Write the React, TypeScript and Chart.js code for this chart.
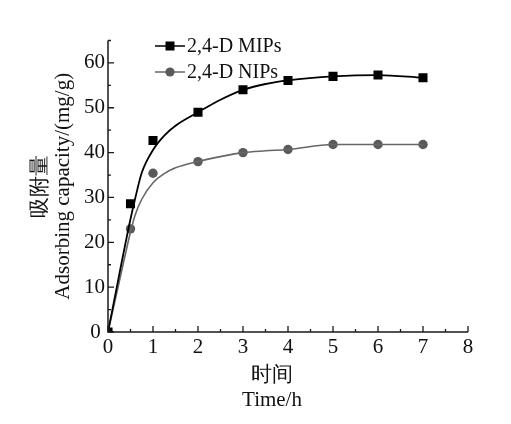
import React, { useEffect, useRef } from "react";
import { Chart, registerables } from "chart.js";

Chart.register(...registerables);

// Measured data (time in h, adsorbing capacity in mg/g)
const times = [0, 0.5, 1, 2, 3, 4, 5, 6, 7];
const mipValues = [0, 28.6, 42.7, 49.0, 54.0, 56.1, 57.0, 57.3, 56.7];
const nipValues = [0, 23.0, 35.4, 38.0, 40.0, 40.7, 41.8, 41.8, 41.8];

// Fitted curves
const fitTimes = [0, 0.25, 0.5, 0.6, 0.75, 1, 1.25, 1.5, 2, 2.5, 3, 3.5, 4, 5, 6, 7];
const mipFit = [0, 12.8, 25.2, 29.6, 35.5, 40.6, 43.8, 46.0, 49.0, 51.8, 54.0, 55.3, 56.1, 57.0, 57.3, 56.7];
const nipFit = [0, 11.2, 22.3, 26.0, 29.6, 33.3, 35.3, 36.6, 38.0, 39.1, 40.0, 40.4, 40.7, 41.8, 41.8, 41.8];

const xTicks = [0, 1, 2, 3, 4, 5, 6, 7, 8];
const yTicks = [0, 10, 20, 30, 40, 50, 60];
const seriesNames = ["2,4-D MIPs", "2,4-D NIPs"];
const yTitle = ["吸附量", "Adsorbing capacity/(mg/g)"];
const xTitle = ["时间", "Time/h"];

const FONT = "'Liberation Serif', 'Times New Roman', serif";
const MIP_COLOR = "#000000";
const NIP_LINE = "#666666";
const NIP_POINT = "#5a5a5a";
const AXIS_COLOR = "#1a1a1a";

const decorPlugin = {
  id: "decor",
  afterDraw(chart: any) {
    const ctx = chart.ctx as CanvasRenderingContext2D;
    const xs = chart.scales.x;
    const ys = chart.scales.y;
    const area = chart.chartArea;
    ctx.save();
    // axis lines
    ctx.strokeStyle = AXIS_COLOR;
    ctx.lineWidth = 1.5;
    ctx.beginPath();
    ctx.moveTo(area.left, area.top);
    ctx.lineTo(area.left, area.bottom);
    ctx.lineTo(area.right, area.bottom);
    ctx.stroke();
    // inward ticks
    ctx.lineWidth = 1.3;
    ctx.beginPath();
    for (let i = 0; i < xTicks.length; i++) {
      const px = xs.getPixelForValue(xTicks[i]);
      ctx.moveTo(px, area.bottom);
      ctx.lineTo(px, area.bottom - 6);
      if (i < xTicks.length - 1) {
        const mx = xs.getPixelForValue((xTicks[i] + xTicks[i + 1]) / 2);
        ctx.moveTo(mx, area.bottom);
        ctx.lineTo(mx, area.bottom - 3);
      }
    }
    for (let i = 0; i < yTicks.length; i++) {
      const py = ys.getPixelForValue(yTicks[i]);
      ctx.moveTo(area.left, py);
      ctx.lineTo(area.left + 6, py);
      const mid = yTicks[i] + 5;
      const my = ys.getPixelForValue(mid);
      if (my >= area.top) {
        ctx.moveTo(area.left, my);
        ctx.lineTo(area.left + 3, my);
      }
    }
    ctx.stroke();

    // legend
    const lx = area.left + 47;
    const rows = [area.top + 5.5, area.top + 31.5];
    ctx.font = `20px ${FONT}`;
    ctx.textBaseline = "middle";
    ctx.textAlign = "left";
    // MIP row
    ctx.strokeStyle = MIP_COLOR;
    ctx.lineWidth = 1.5;
    ctx.beginPath();
    ctx.moveTo(lx, rows[0]);
    ctx.lineTo(lx + 30, rows[0]);
    ctx.stroke();
    ctx.fillStyle = MIP_COLOR;
    ctx.fillRect(lx + 15 - 4.5, rows[0] - 4.5, 9, 9);
    ctx.fillStyle = "#111";
    ctx.fillText(seriesNames[0], lx + 32, rows[0] + 1);
    // NIP row
    ctx.strokeStyle = NIP_LINE;
    ctx.beginPath();
    ctx.moveTo(lx, rows[1]);
    ctx.lineTo(lx + 30, rows[1]);
    ctx.stroke();
    ctx.fillStyle = NIP_POINT;
    ctx.beginPath();
    ctx.arc(lx + 15, rows[1], 4.6, 0, Math.PI * 2);
    ctx.fill();
    ctx.fillStyle = "#111";
    ctx.fillText(seriesNames[1], lx + 32, rows[1] + 1);

    // axis titles
    ctx.font = `21px ${FONT}`;
    ctx.textAlign = "center";
    const cy = (area.top + area.bottom) / 2;
    ctx.save();
    ctx.translate(40, cy);
    ctx.rotate(-Math.PI / 2);
    ctx.fillText(yTitle[0], 0, 0);
    ctx.restore();
    ctx.save();
    ctx.translate(63, cy);
    ctx.rotate(-Math.PI / 2);
    ctx.fillText(yTitle[1], 0, 0);
    ctx.restore();
    const tx = area.left + 164;
    ctx.fillText(xTitle[0], tx, area.bottom + 43);
    ctx.fillText(xTitle[1], tx, area.bottom + 68);
    ctx.restore();
  },
};

export default function App() {
  const ref = useRef<HTMLCanvasElement | null>(null);
  useEffect(() => {
    document.body.style.margin = "0";
    const canvas = ref.current;
    if (!canvas) return;
    const chart = new Chart(canvas, {
      type: "scatter",
      data: {
        datasets: [
          {
            label: "MIP fit",
            data: fitTimes.map((t, i) => ({ x: t, y: mipFit[i] })),
            showLine: true,
            borderColor: MIP_COLOR,
            borderWidth: 1.8,
            pointRadius: 0,
            cubicInterpolationMode: "monotone",
          },
          {
            label: "NIP fit",
            data: fitTimes.map((t, i) => ({ x: t, y: nipFit[i] })),
            showLine: true,
            borderColor: NIP_LINE,
            borderWidth: 1.6,
            pointRadius: 0,
            cubicInterpolationMode: "monotone",
          },
          {
            label: seriesNames[0],
            data: times.map((t, i) => ({ x: t, y: mipValues[i] })),
            showLine: false,
            pointStyle: "rect",
            pointRadius: 6.4,
            backgroundColor: MIP_COLOR,
            borderColor: MIP_COLOR,
            borderWidth: 0,
          },
          {
            label: seriesNames[1],
            data: times.map((t, i) => ({ x: t, y: nipValues[i] })),
            showLine: false,
            pointStyle: "circle",
            pointRadius: 4.7,
            backgroundColor: NIP_POINT,
            borderColor: NIP_POINT,
            borderWidth: 0,
          },
        ],
      },
      options: {
        responsive: false,
        animation: false,
        layout: { padding: { left: 0, top: 40.5, right: 43, bottom: 0 } },
        plugins: {
          legend: { display: false },
          tooltip: { enabled: false },
        },
        scales: {
          x: {
            type: "linear",
            min: 0,
            max: 8,
            grid: { display: false, drawTicks: false },
            border: { display: false },
            afterBuildTicks: (s: any) => {
              s.ticks = xTicks.map((v) => ({ value: v }));
            },
            afterFit: (s: any) => {
              s.height = 92;
            },
            ticks: {
              padding: 3,
              color: "#111",
              font: { family: FONT, size: 21 },
              maxRotation: 0,
              autoSkip: false,
            },
          },
          y: {
            type: "linear",
            min: 0,
            max: 65,
            grid: { display: false, drawTicks: false },
            border: { display: false },
            afterBuildTicks: (s: any) => {
              s.ticks = yTicks.map((v) => ({ value: v }));
            },
            afterFit: (s: any) => {
              s.width = 108;
            },
            ticks: {
              padding: 3,
              color: "#111",
              font: { family: FONT, size: 21 },
              callback: (v: any) => (v === 0 ? "0\u2009" : String(v)),
            },
          },
        },
      },
      plugins: [decorPlugin],
    } as any);
    return () => chart.destroy();
  }, []);
  return (
    <div style={{ width: 511, height: 424, background: "#fff" }}>
      <canvas ref={ref} width={511} height={424} style={{ display: "block" }} />
    </div>
  );
}
